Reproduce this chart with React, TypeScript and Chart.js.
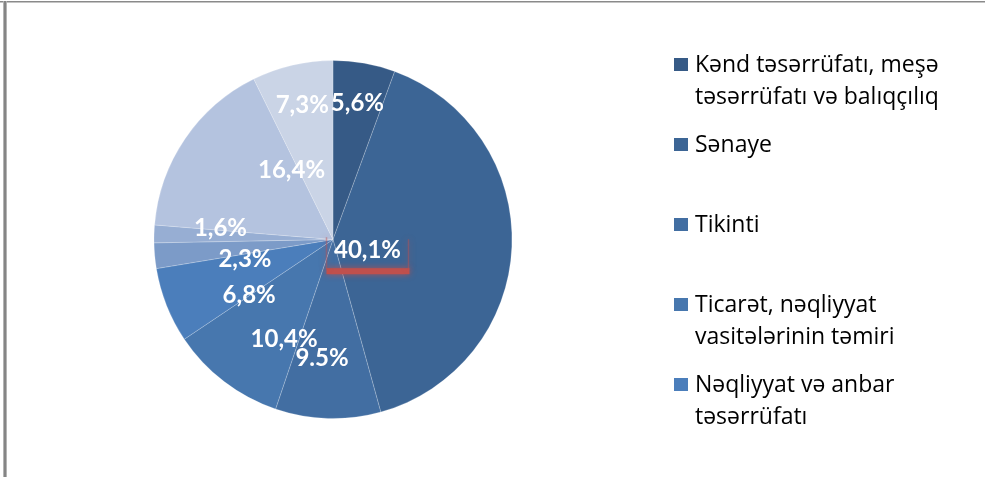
import React, { useEffect, useRef } from "react";
import { Chart, registerables } from "chart.js";

Chart.register(...registerables);

const categories = [
  "Kənd təsərrüfatı, meşə təsərrüfatı və balıqçılıq",
  "Sənaye",
  "Tikinti",
  "Ticarət, nəqliyyat vasitələrinin təmiri",
  "Nəqliyyat və anbar təsərrüfatı",
  "Kateqoriya 6",
  "Kateqoriya 7",
  "Kateqoriya 8",
  "Kateqoriya 9",
];
const shares = [5.6, 40.1, 9.5, 10.4, 6.8, 2.3, 1.6, 16.4, 7.3];
const valueLabels = ["5,6%", "40,1%", "9.5%", "10,4%", "6,8%", "2,3%", "1,6%", "16,4%", "7,3%"];

// Legend as shown (wrapped lines; only the first five entries are visible)
const legendLines: string[][] = [
  ["Kənd təsərrüfatı, meşə", "təsərrüfatı və balıqçılıq"],
  ["Sənaye"],
  ["Tikinti"],
  ["Ticarət, nəqliyyat", "vasitələrinin təmiri"],
  ["Nəqliyyat və anbar", "təsərrüfatı"],
];

const sliceColors = [
  "#365A86",
  "#3C6595",
  "#426EA2",
  "#4777AE",
  "#4B7EBB",
  "#7C9BC8",
  "#97AED3",
  "#B4C3DF",
  "#CAD4E6",
];

// label nudges (px) relative to default position at 0.78 * radius
const labelNudges: [number, number][] = [
  [0, 0],
  [-105, 4],
  [-7, -22],
  [36, -12],
  [46, 3],
  [51, 6],
  [27, -8],
  [74, 8],
  [1, 1],
];

const decorPlugin = {
  id: "decor",
  beforeDraw(chart: any) {
    const ctx = chart.ctx;
    ctx.save();
    ctx.fillStyle = "#ffffff";
    ctx.fillRect(0, 0, chart.width, chart.height);
    ctx.fillStyle = "#8a8a8a";
    ctx.fillRect(0, 1, chart.width, 1.5);
    ctx.fillStyle = "#b4b4b4";
    ctx.fillRect(3, 1, 4, chart.height);
    ctx.fillStyle = "#858585";
    ctx.fillRect(4, 1, 2, chart.height);
    ctx.restore();
  },
  afterDraw(chart: any) {
    const ctx = chart.ctx;
    const meta = chart.getDatasetMeta(0);
    ctx.save();
    ctx.font = "bold 24px Lato";
    ctx.fillStyle = "#ffffff";
    ctx.textAlign = "center";
    ctx.textBaseline = "middle";
    const positions: { x: number; y: number }[] = [];
    meta.data.forEach((arc: any, i: number) => {
      const p = arc.getProps(["x", "y", "startAngle", "endAngle", "outerRadius"], true);
      const mid = (p.startAngle + p.endAngle) / 2;
      const r = p.outerRadius * 0.78;
      const x = p.x + Math.cos(mid) * r + labelNudges[i][0];
      const y = p.y + Math.sin(mid) * r + labelNudges[i][1];
      positions.push({ x, y });
    });
    // red highlight box around the largest slice label
    const big = positions[1];
    if (big) {
      ctx.save();
      ctx.shadowColor = "rgba(192,80,77,0.9)";
      ctx.shadowBlur = 6;
      ctx.fillStyle = "#C0504D";
      ctx.fillRect(big.x - 41, big.y + 19, 83, 6);
      ctx.strokeStyle = "rgba(192,80,77,0.45)";
      ctx.lineWidth = 1.5;
      ctx.beginPath();
      ctx.moveTo(big.x - 41, big.y - 12);
      ctx.lineTo(big.x - 41, big.y + 20);
      ctx.moveTo(big.x + 41, big.y - 10);
      ctx.lineTo(big.x + 41, big.y + 20);
      ctx.stroke();
      ctx.restore();
    }
    positions.forEach((p, i) => {
      ctx.fillText(valueLabels[i], p.x, p.y + 1);
    });
    // legend
    ctx.textAlign = "left";
    ctx.textBaseline = "alphabetic";
    ctx.font = "23px 'Open Sans'";
    legendLines.forEach((lines, i) => {
      const base = 72 + i * 80;
      ctx.fillStyle = sliceColors[i];
      ctx.fillRect(674, base - 14, 14, 13);
      ctx.fillStyle = "#000000";
      lines.forEach((t, j) => ctx.fillText(t, 695, base + j * 32));
    });
    ctx.restore();
  },
};

export default function App() {
  const ref = useRef<HTMLCanvasElement | null>(null);
  useEffect(() => {
    document.body.style.margin = "0";
    if (!ref.current) return;
    const chart = new Chart(ref.current, {
      type: "pie",
      data: {
        labels: categories,
        datasets: [
          {
            data: shares,
            backgroundColor: sliceColors,
            borderColor: "rgba(255,255,255,0.2)",
            borderWidth: 1,
          },
        ],
      },
      options: {
        responsive: false,
        animation: false,
        devicePixelRatio: 1,
        layout: { padding: { left: 153, top: 60, right: 472, bottom: 58 } },
        plugins: {
          legend: { display: false },
          tooltip: { enabled: false },
          title: { display: false },
        },
      },
      plugins: [decorPlugin],
    });
    return () => chart.destroy();
  }, []);
  return (
    <div style={{ width: 985, height: 477 }}>
      <canvas ref={ref} width={985} height={477} />
    </div>
  );
}
